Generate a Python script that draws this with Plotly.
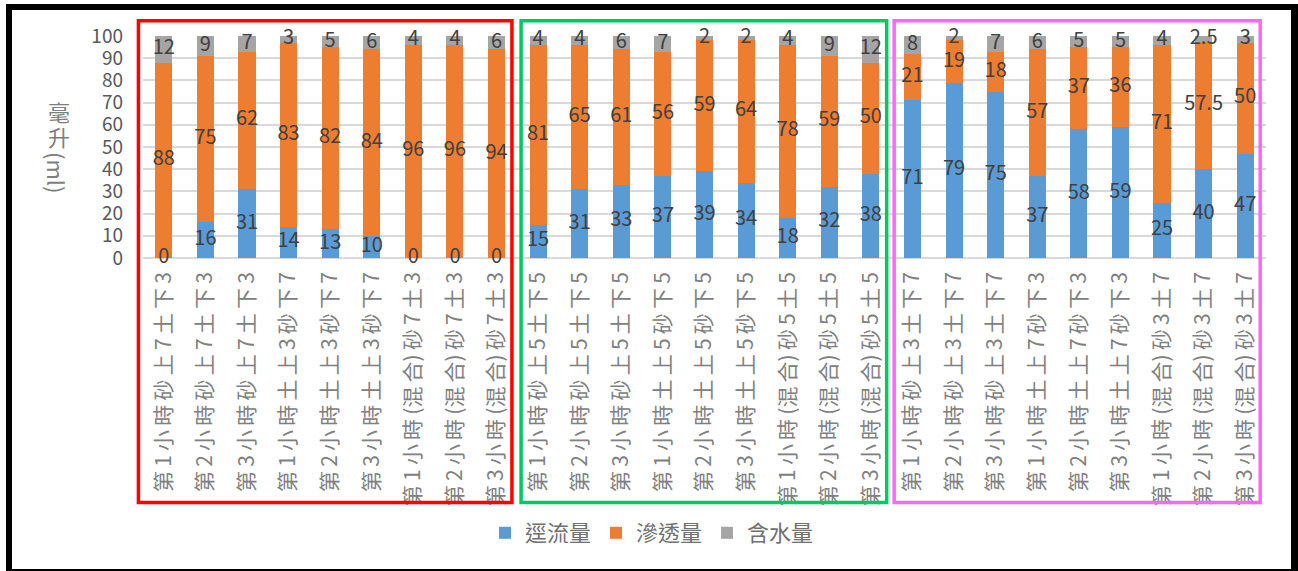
import plotly.graph_objects as go

# ---- data -------------------------------------------------------------
categories = [
    "第1小時砂上7土下3", "第2小時砂上7土下3", "第3小時砂上7土下3",
    "第1小時土上3砂下7", "第2小時土上3砂下7", "第3小時土上3砂下7",
    "第1小時(混合)砂7土3", "第2小時(混合)砂7土3", "第3小時(混合)砂7土3",
    "第1小時砂上5土下5", "第2小時砂上5土下5", "第3小時砂上5土下5",
    "第1小時土上5砂下5", "第2小時土上5砂下5", "第3小時土上5砂下5",
    "第1小時(混合)砂5土5", "第2小時(混合)砂5土5", "第3小時(混合)砂5土5",
    "第1小時砂上3土下7", "第2小時砂上3土下7", "第3小時砂上3土下7",
    "第1小時土上7砂下3", "第2小時土上7砂下3", "第3小時土上7砂下3",
    "第1小時(混合)砂3土7", "第2小時(混合)砂3土7", "第3小時(混合)砂3土7",
]

runoff = [0, 16, 31, 14, 13, 10, 0, 0, 0,
          15, 31, 33, 37, 39, 34, 18, 32, 38,
          71, 79, 75, 37, 58, 59, 25, 40, 47]
seepage = [88, 75, 62, 83, 82, 84, 96, 96, 94,
           81, 65, 61, 56, 59, 64, 78, 59, 50,
           21, 19, 18, 57, 37, 36, 71, 57.5, 50]
water = [12, 9, 7, 3, 5, 6, 4, 4, 6,
         4, 4, 6, 7, 2, 2, 4, 9, 12,
         8, 2, 7, 6, 5, 5, 4, 2.5, 3]

series_names = ["逕流量", "滲透量", "含水量"]
y_ticks = list(range(0, 101, 10))

# ---- styling ----------------------------------------------------------
W, H = 1298, 571
L, R, T, B = 143, 32, 36, 313
colors = ["#5B9BD5", "#ED7D31", "#A5A5A5"]
cjk = "Noto Sans CJK TC"
n = len(categories)

# group frames in category units (left, right) and their colours
group_frames = [(-0.61, 8.37, "#FF0000"), (8.59, 17.38, "#00C862"), (17.56, 26.36, "#FF66FF")]
frame_top_px, frame_bottom_px = 20.7, 502.5

plot_w = W - L - R
plot_h = H - T - B


def px_to_paper_x(px):
    return (px - L) / plot_w


def px_to_paper_y(py):
    return (H - B - py) / plot_h


def cat_to_paper_x(c):
    return (c + 0.5) / n


def fmt(v):
    return f"{v:g}"


def spaced(label):
    # letter-spaced label; the bracketed part stays tight
    thin = "\u2009"
    out = ""
    for i, ch in enumerate(label):
        out += ch
        if i < len(label) - 1:
            nxt = label[i + 1]
            if ch == "(" or nxt == ")":
                continue
            out += thin
    return out


fig = go.Figure()

stacks = [runoff, seepage, water]
for name, vals, col in zip(series_names, stacks, colors):
    fig.add_trace(go.Bar(
        x=categories, y=vals, name=name,
        marker=dict(color=col, line=dict(width=0)),
    ))

# value labels centred on each stacked segment
base = [0] * n
for vals in stacks:
    centres = [b + v / 2 for b, v in zip(base, vals)]
    fig.add_trace(go.Scatter(
        x=categories, y=centres, mode="text",
        text=[fmt(v) for v in vals],
        textfont=dict(family=cjk, size=20, color="#404040"),
        showlegend=False, hoverinfo="skip", cliponaxis=False,
    ))
    base = [b + v for b, v in zip(base, vals)]

shapes = [
    # outer dark frame
    dict(type="rect", xref="paper", yref="paper", layer="below",
         x0=px_to_paper_x(6), x1=px_to_paper_x(W), y0=px_to_paper_y(H), y1=px_to_paper_y(4),
         fillcolor="black", line=dict(width=0)),
    dict(type="rect", xref="paper", yref="paper", layer="below",
         x0=px_to_paper_x(12), x1=px_to_paper_x(1291), y0=px_to_paper_y(569), y1=px_to_paper_y(10),
         fillcolor="white", line=dict(width=0)),
]
for c0, c1, col in group_frames:
    shapes.append(dict(
        type="rect", xref="paper", yref="paper", layer="above",
        x0=cat_to_paper_x(c0), x1=cat_to_paper_x(c1),
        y0=px_to_paper_y(frame_bottom_px), y1=px_to_paper_y(frame_top_px),
        line=dict(color=col, width=3.5), fillcolor="rgba(0,0,0,0)",
    ))

tick_text = [spaced(c) for c in categories]

axis_title_font = dict(family=cjk, size=22, color="#7F7F7F")

fig.update_layout(
    width=W, height=H,
    margin=dict(l=L, r=R, t=T, b=B, autoexpand=False),
    paper_bgcolor="white", plot_bgcolor="white",
    barmode="stack", bargap=0.59,
    font=dict(family=cjk, color="#595959"),
    shapes=shapes,
    showlegend=True,
    legend=dict(
        orientation="h", x=px_to_paper_x(652), xanchor="center",
        y=px_to_paper_y(533), yanchor="middle",
        font=dict(family=cjk, size=22, color="#707070"),
        traceorder="normal", itemwidth=30, bgcolor="rgba(0,0,0,0)",
    ),
    xaxis=dict(
        type="category", categoryorder="array", categoryarray=categories,
        tickmode="array", tickvals=categories, ticktext=tick_text,
        tickangle=-90, tickfont=dict(family=cjk, size=21, color="#808080"),
        showgrid=False, showline=False, zeroline=False, ticks="",
        ticklabelstandoff=9, automargin=False,
        range=[-0.5, n - 0.5],
    ),
    yaxis=dict(
        range=[0, 100], tickmode="array", tickvals=y_ticks,
        tickfont=dict(family=cjk, size=19, color="#595959"),
        showgrid=True, gridcolor="#D9D9D9", gridwidth=2,
        zeroline=True, zerolinecolor="#D9D9D9", zerolinewidth=2,
        showline=False, ticks="", ticklabelstandoff=19, automargin=False,
    ),
    annotations=[
        dict(text="毫", xref="paper", yref="paper",
             x=px_to_paper_x(59), y=px_to_paper_y(111), xanchor="center", yanchor="middle",
             showarrow=False, font=axis_title_font),
        dict(text="升", xref="paper", yref="paper",
             x=px_to_paper_x(59), y=px_to_paper_y(136), xanchor="center", yanchor="middle",
             showarrow=False, font=axis_title_font),
        dict(text="(ml)", xref="paper", yref="paper", textangle=90,
             x=px_to_paper_x(57), y=px_to_paper_y(173), xanchor="center", yanchor="middle",
             showarrow=False, font=axis_title_font),
    ],
)

fig.write_html("out.html")
